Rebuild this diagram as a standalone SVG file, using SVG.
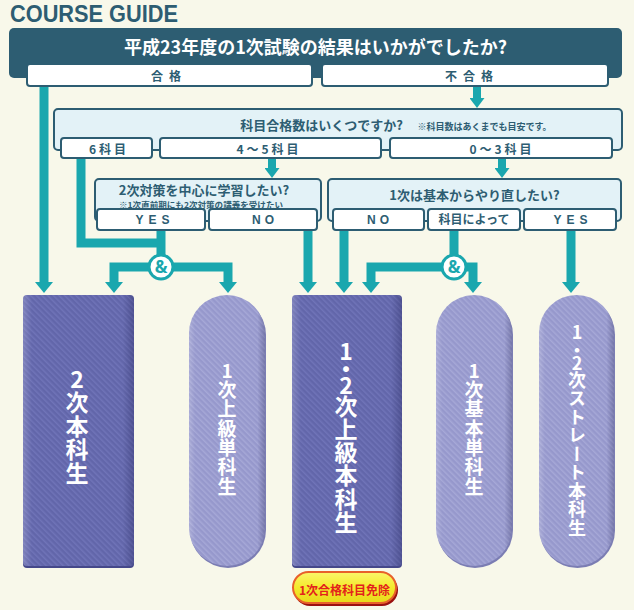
<svg xmlns="http://www.w3.org/2000/svg" width="634" height="610" viewBox="0 0 634 610">
<defs>
<style>
.jp{font-family:'Noto Sans CJK JP','Noto Sans CJK SC',sans-serif;font-weight:700}
.lbl{fill:#2d5d72;font-size:12px;text-anchor:middle}
.en{font-family:'Liberation Sans',Arial,sans-serif;font-weight:700;fill:#2d5d72;font-size:12px;text-anchor:middle}
.opt{fill:#fff;stroke:#2d5d72;stroke-width:2}
.qbox{fill:#e3f2f7;stroke:#2d5d72;stroke-width:2}
.con{fill:none;stroke:#1aa7ae;stroke-width:9}
.conS{fill:none;stroke:#1aa7ae;stroke-width:8}
.vert{fill:#fff;writing-mode:vertical-rl;text-orientation:upright}
.amp{fill:#fff;stroke:#1aa7ae;stroke-width:3}
.ampT{fill:#1aa7ae;font-family:'Noto Sans','DejaVu Sans',sans-serif;font-weight:700;font-size:17px;text-anchor:middle}
</style>
<marker id="ah" markerUnits="userSpaceOnUse" viewBox="0 0 11 18" refX="0" refY="9" markerWidth="11" markerHeight="18" orient="auto">
<path d="M0,0 L11,9 L0,18 Z" fill="#1aa7ae"/>
</marker>
<marker id="ahS" markerUnits="userSpaceOnUse" viewBox="0 0 10 15" refX="0" refY="7.5" markerWidth="10" markerHeight="15" orient="auto">
<path d="M0,0 L10,7.5 L0,15 Z" fill="#1aa7ae"/>
</marker>
<pattern id="stD" patternUnits="userSpaceOnUse" width="4" height="4" patternTransform="rotate(-45)">
<rect width="4" height="4" fill="#6266aa"/><rect width="1.5" height="4" fill="#7074b8"/>
</pattern>
<pattern id="stL" patternUnits="userSpaceOnUse" width="4" height="4" patternTransform="rotate(-45)">
<rect width="4" height="4" fill="#9698cc"/><rect width="1.5" height="4" fill="#a6a8d7"/>
</pattern>
<linearGradient id="bevH" x1="0" y1="0" x2="1" y2="0">
<stop offset="0" stop-color="#ffffff" stop-opacity="0.18"/>
<stop offset="0.08" stop-color="#ffffff" stop-opacity="0"/>
<stop offset="0.9" stop-color="#000030" stop-opacity="0"/>
<stop offset="1" stop-color="#000030" stop-opacity="0.22"/>
</linearGradient>
<linearGradient id="yel" x1="0" y1="0" x2="0" y2="1">
<stop offset="0" stop-color="#fbf56a"/>
<stop offset="0.5" stop-color="#f4ea2c"/>
<stop offset="1" stop-color="#e8d81a"/>
</linearGradient>
</defs>

<rect width="634" height="610" fill="#f8f8ea"/>

<text x="10" y="22" font-family="'Liberation Sans',Arial,sans-serif" font-weight="700" font-size="24" fill="#2d5d72" textLength="168" lengthAdjust="spacingAndGlyphs">COURSE GUIDE</text>

<g id="connectors">
<path class="con" d="M44,86 V282" marker-end="url(#ah)"/>
<path class="conS" d="M477,86 V98" marker-end="url(#ahS)"/>
<path class="conS" d="M272,159 V168" marker-end="url(#ahS)"/>
<path class="conS" d="M502,159 V168" marker-end="url(#ahS)"/>
<path class="con" d="M81,159 V243 H165"/>
<path class="con" d="M161,230 V267"/>
<path class="con" d="M161,267 H114 V282" marker-end="url(#ah)"/>
<path class="con" d="M161,267 H228 V282" marker-end="url(#ah)"/>
<path class="con" d="M308,230 V282" marker-end="url(#ah)"/>
<path class="con" d="M344,230 V282" marker-end="url(#ah)"/>
<path class="con" d="M454,230 V267"/>
<path class="con" d="M454,267 H371 V282" marker-end="url(#ah)"/>
<path class="con" d="M454,267 H473 V282" marker-end="url(#ah)"/>
<path class="con" d="M571,230 V282" marker-end="url(#ah)"/>
<g id="and-left"><circle class="amp" cx="161" cy="267" r="12"/><text class="ampT" x="161" y="273">&amp;</text></g>
<g id="and-right"><circle class="amp" cx="454" cy="267" r="12"/><text class="ampT" x="454" y="273">&amp;</text></g>
</g>

<g id="q1">
<rect x="9" y="28" width="613" height="50" rx="5" fill="#2d5d72"/>
<text class="jp" x="315.5" y="54" font-size="18" fill="#fff" text-anchor="middle">平成23年度の1次試験の結果はいかがでしたか?</text>
</g>
<g id="a-pass">
<rect class="opt" x="27" y="64" width="285" height="22" rx="3"/>
<text class="jp lbl" x="169" y="81" font-size="13" letter-spacing="6">合格</text>
</g>
<g id="a-fail">
<rect class="opt" x="322" y="64" width="286" height="22" rx="3"/>
<text class="jp lbl" x="472" y="81" font-size="13" letter-spacing="6">不合格</text>
</g>

<g id="q2">
<rect class="qbox" x="54" y="109" width="568" height="41" rx="4"/>
<text class="jp" x="321.5" y="130" font-size="13" fill="#2d5d72" text-anchor="middle">科目合格数はいくつですか?</text>
<text class="jp" x="484.5" y="129.5" font-size="9" fill="#2d5d72" text-anchor="middle" font-weight="400">※科目数はあくまでも目安です。</text>
</g>
<g id="opt-6">
<rect class="opt" x="61" y="138" width="91" height="20" rx="3"/>
<text class="jp lbl" x="109" y="153.5" letter-spacing="3">6科目</text>
</g>
<g id="opt-45">
<rect class="opt" x="160" y="138" width="221" height="20" rx="3"/>
<text class="jp lbl" x="269" y="153.5" letter-spacing="3">4～5科目</text>
</g>
<g id="opt-03">
<rect class="opt" x="390" y="138" width="222" height="20" rx="3"/>
<text class="jp lbl" x="502" y="153.5" letter-spacing="3">0～3科目</text>
</g>

<g id="q3">
<rect class="qbox" x="95" y="179" width="226" height="42" rx="4"/>
<text class="jp" x="204" y="194.8" font-size="13" fill="#2d5d72" text-anchor="middle">2次対策を中心に学習したい?</text>
</g>
<g id="q3-yes">
<rect class="opt" x="97" y="209" width="108" height="21" rx="3"/>
<text class="en" x="155" y="224" letter-spacing="5">YES</text>
</g>
<g id="q3-no">
<rect class="opt" x="209" y="209" width="108" height="21" rx="3"/>
<text class="en" x="265" y="224" letter-spacing="4">NO</text>
</g>
<text class="jp" x="201" y="208" font-size="8" fill="#2d5d72" text-anchor="middle" textLength="164" lengthAdjust="spacingAndGlyphs">※1次直前期にも2次対策の講義を受けたい</text>

<g id="q4">
<rect class="qbox" x="328" y="179" width="293" height="42" rx="4"/>
<text class="jp" x="474.5" y="200" font-size="13" fill="#2d5d72" text-anchor="middle">1次は基本からやり直したい?</text>
</g>
<g id="q4-no">
<rect class="opt" x="333" y="209" width="91" height="21" rx="3"/>
<text class="en" x="380" y="224" letter-spacing="4">NO</text>
</g>
<g id="q4-sub">
<rect class="opt" x="428" y="209" width="92" height="21" rx="3"/>
<text class="jp lbl" x="474" y="223.5">科目によって</text>
</g>
<g id="q4-yes">
<rect class="opt" x="524" y="209" width="92" height="21" rx="3"/>
<text class="en" x="573" y="224" letter-spacing="5">YES</text>
</g>

<g id="n-2ji-honka">
<rect x="23" y="297" width="111" height="271" rx="4" fill="#45488a"/>
<rect x="23" y="295" width="111" height="271" rx="4" fill="url(#stD)"/>
<rect x="23" y="295" width="111" height="271" rx="4" fill="url(#bevH)"/>
<text class="jp vert" x="77" y="367.5" font-size="23" letter-spacing="0.5">2次本科生</text>
</g>

<g id="n-1ji-jokyu-tanka">
<rect x="190" y="297" width="76" height="271" rx="38" fill="#7b7db3"/>
<rect x="189" y="295" width="76" height="271" rx="38" fill="url(#stL)"/>
<rect x="189" y="295" width="76" height="271" rx="38" fill="url(#bevH)"/>
<text class="jp vert" x="227" y="361" font-size="19" letter-spacing="0.3">1次上級単科生</text>
</g>

<g id="n-12ji-jokyu-honka">
<rect x="292" y="297" width="110" height="271" rx="4" fill="#45488a"/>
<rect x="292" y="295" width="110" height="271" rx="4" fill="url(#stD)"/>
<rect x="292" y="295" width="110" height="271" rx="4" fill="url(#bevH)"/>
<text class="jp vert" x="346" y="339.5" font-size="23" letter-spacing="0.2"><tspan letter-spacing="-5">1</tspan><tspan letter-spacing="-7">・</tspan><tspan letter-spacing="-2">2</tspan>次上級本科生</text>
</g>

<g id="n-1ji-kihon-tanka">
<rect x="437" y="297" width="76" height="271" rx="38" fill="#7b7db3"/>
<rect x="436" y="295" width="76" height="271" rx="38" fill="url(#stL)"/>
<rect x="436" y="295" width="76" height="271" rx="38" fill="url(#bevH)"/>
<text class="jp vert" x="474" y="361" font-size="19" letter-spacing="0.3">1次基本単科生</text>
</g>

<g id="n-12ji-straight-honka">
<rect x="540" y="297" width="75" height="271" rx="37.5" fill="#7b7db3"/>
<rect x="539" y="295" width="75" height="271" rx="37.5" fill="url(#stL)"/>
<rect x="539" y="295" width="75" height="271" rx="37.5" fill="url(#bevH)"/>
<text class="jp vert" x="577" y="323" font-size="18" letter-spacing="0.5"><tspan letter-spacing="0">1</tspan><tspan letter-spacing="-5">・</tspan><tspan letter-spacing="-1">2</tspan>次ストレート本科生</text>
</g>

<g id="badge">
<rect x="294" y="574" width="104" height="32" rx="16" fill="#9a1010"/>
<rect x="293" y="572" width="103" height="31" rx="15.5" fill="url(#yel)" stroke="#e8602a" stroke-width="2"/>
<text class="jp" x="344.5" y="594.5" font-size="12" fill="#e3221c" text-anchor="middle">1次合格科目免除</text>
</g>
</svg>
